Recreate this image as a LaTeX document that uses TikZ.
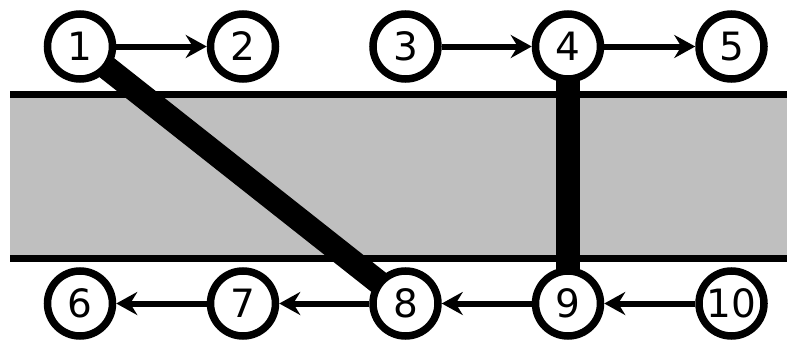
\documentclass[tikz,border=0pt]{standalone}
\usepackage{fontspec}
\setmainfont{DejaVu Sans}
\usetikzlibrary{arrows.meta}
\pgfdeclarelayer{back}
\pgfdeclarelayer{mid}
\pgfsetlayers{back,mid,main}
\tikzset{
  num/.style={circle, draw=black, line width=7.5pt, fill=white, minimum size=65pt, inner sep=0pt, font=\fontsize{39}{39}\selectfont},
  arr/.style={line width=6pt, -{Stealth[length=21pt, width=23pt, inset=7pt]}},
  bar/.style={line width=24pt},
  edge/.style={line width=7pt}
}
\begin{document}
\begin{tikzpicture}[x=1pt,y=1pt]
\useasboundingbox (0,0) rectangle (787,341);
\node[num] (n1) at (80,294.5) {1};
\node[num] (n2) at (243,294.5) {2};
\node[num] (n3) at (405.5,294.5) {3};
\node[num] (n4) at (568,294.5) {4};
\node[num] (n5) at (731.5,294.5) {5};
\node[num] (n6) at (80,37.5) {6};
\node[num] (n7) at (243,37.5) {7};
\node[num] (n8) at (405.5,37.5) {8};
\node[num] (n9) at (568,37.5) {9};
\node[num] (n10) at (731.5,37.5) {10};
\coordinate (bl) at (10,82.5);
\coordinate (tr) at (800,246.5);
\coordinate (tl) at (10,246.5);
\coordinate (br) at (800,82.5);
\begin{pgfonlayer}{back}
\fill[black!25] (bl) rectangle (tr);
\draw[edge] (tl) -- (tr);
\draw[edge] (bl) -- (br);
\end{pgfonlayer}
\begin{pgfonlayer}{mid}
\draw[bar] (n1.center) -- (n8.center);
\draw[bar] (n4.center) -- (n9.center);
\end{pgfonlayer}
\draw[arr] (n1) -- (n2);
\draw[arr] (n3) -- (n4);
\draw[arr] (n4) -- (n5);
\draw[arr] (n10) -- (n9);
\draw[arr] (n9) -- (n8);
\draw[arr] (n8) -- (n7);
\draw[arr] (n7) -- (n6);
\end{tikzpicture}
\end{document}
